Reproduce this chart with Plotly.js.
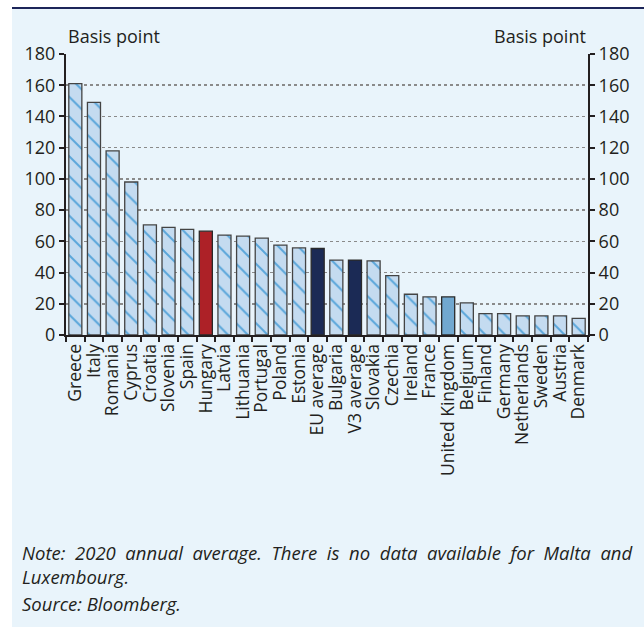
<!DOCTYPE html>
<html>
<head>
<meta charset="utf-8">
<script src="https://cdn.plot.ly/plotly-3.0.1.min.js"></script>
<style>
  html, body { margin: 0; padding: 0; background: #ffffff; }
  #wrap { position: absolute; left: 12px; top: 7px; width: 632px; height: 620px; border-top: 2px solid #1c2559; background: #e9f4fb; }
  #chart { width: 632px; height: 618px; }
</style>
</head>
<body>
<div id="wrap"><div id="chart"></div></div>
<script>
const countries = ["Greece","Italy","Romania","Cyprus","Croatia","Slovenia","Spain","Hungary","Latvia","Lithuania","Portugal","Poland","Estonia","EU average","Bulgaria","V3 average","Slovakia","Czechia","Ireland","France","United Kingdom","Belgium","Finland","Germany","Netherlands","Sweden","Austria","Denmark"];
const basisPoints = [161, 149, 118, 98, 70.5, 69, 67.6, 66.5, 64, 63.3, 62, 57.6, 55.8, 55.4, 48, 48, 47.5, 38, 26.1, 24.4, 24.4, 20.6, 13.7, 13.7, 12.2, 12.2, 12.2, 10.7];
const yTicks = [0, 20, 40, 60, 80, 100, 120, 140, 160, 180];
const yAxisLabel = "Basis point";
const noteWords1 = ["Note:", "2020", "annual", "average.", "There", "is", "no", "data", "available", "for", "Malta", "and"];
const noteLine2 = "Luxembourg.";
const sourceText = "Source: Bloomberg.";

const specialColor = {"Hungary": "#ad2127", "EU average": "#1b2a55", "V3 average": "#1b2a55", "United Kingdom": "#71a8d0"};
const fills = countries.map(c => specialColor[c] || "#c4dbf0");
const lineCols = countries.map(c => specialColor[c] ? "#2a2a2a" : "#444444");
const stripedY = basisPoints.map((v, i) => specialColor[countries[i]] ? null : v);

const fontFam = "Open Sans, sans-serif";
const BW = 0.7;

// base solid fill
const fillTrace = {
  type: "bar", x: countries, y: basisPoints, width: BW,
  marker: { color: fills, line: { width: 0 } }, hoverinfo: "x+y"
};
// diagonal stripes on the ordinary bars
const stripeTrace = {
  type: "bar", x: countries, y: stripedY, width: BW,
  marker: {
    color: "#5aa6da", line: { width: 0 },
    pattern: { shape: "\\", fillmode: "replace", fgcolor: "#5aa6da", bgcolor: "rgba(0,0,0,0)", size: 14, solidity: 0.14 }
  },
  hoverinfo: "skip"
};
// outlines
const outlineTrace = {
  type: "bar", x: countries, y: basisPoints, width: BW,
  marker: { color: "rgba(0,0,0,0)", line: { color: lineCols, width: 1.3 } }, hoverinfo: "skip"
};
const rightAxisTrace = {
  type: "scatter", x: [countries[0]], y: [0], yaxis: "y2", mode: "markers",
  marker: { opacity: 0 }, showlegend: false, hoverinfo: "skip"
};

const axisCommon = {
  range: [0, 180], tickvals: yTicks, ticktext: yTicks.map(String),
  showline: true, linecolor: "#231f20", linewidth: 2,
  ticks: "outside", ticklen: 5, tickwidth: 2, tickcolor: "#231f20",
  tickfont: { family: fontFam, size: 18, color: "#231f20" },
  zeroline: false, fixedrange: true
};

const noteFont = { family: fontFam, size: 18.5, color: "#231f20" };
const layout = {
  width: 632, height: 618,
  margin: { l: 54, r: 56, t: 45, b: 292 },
  paper_bgcolor: "#e9f4fb", plot_bgcolor: "#e9f4fb",
  showlegend: false, barmode: "overlay",
  font: { family: fontFam, color: "#231f20" },
  xaxis: {
    type: "category", showline: true, linecolor: "#231f20", linewidth: 2,
    ticks: "outside", ticklen: 5, tickwidth: 2, tickcolor: "#231f20",
    tickson: "boundaries", tickangle: -90, tickmode: "linear", dtick: 1, tick0: 0,
    tickfont: { family: fontFam, size: 17.5, color: "#231f20" },
    showgrid: false, fixedrange: true, range: [-0.5, countries.length - 0.5]
  },
  yaxis: Object.assign({}, axisCommon, {
    showgrid: true, gridcolor: "#8a8a8a", gridwidth: 1.5, griddash: "dot", side: "left"
  }),
  yaxis2: Object.assign({}, axisCommon, {
    overlaying: "y", side: "right", showgrid: false
  }),
  annotations: [
    { text: yAxisLabel, xref: "paper", yref: "paper", x: 0, y: 1, xanchor: "left", yanchor: "bottom", yshift: 4, showarrow: false, font: { family: fontFam, size: 18, color: "#231f20" } },
    { text: yAxisLabel, xref: "paper", yref: "paper", x: 1, y: 1, xanchor: "right", yanchor: "bottom", yshift: 4, showarrow: false, font: { family: fontFam, size: 18, color: "#231f20" } },
    { text: "<i>" + noteWords1.join("&nbsp;&nbsp;") + "</i><br><i>" + noteLine2 + "</i>", xref: "paper", yref: "paper", x: -0.088, y: -0.816, xanchor: "left", yanchor: "middle", align: "left", showarrow: false, font: noteFont },
    { text: "<i>" + sourceText + "</i>", xref: "paper", yref: "paper", x: -0.088, y: -0.955, xanchor: "left", yanchor: "middle", align: "left", showarrow: false, font: noteFont }
  ]
};

Plotly.newPlot("chart", [fillTrace, stripeTrace, outlineTrace, rightAxisTrace], layout, { displayModeBar: false, staticPlot: true });
</script>
</body>
</html>
